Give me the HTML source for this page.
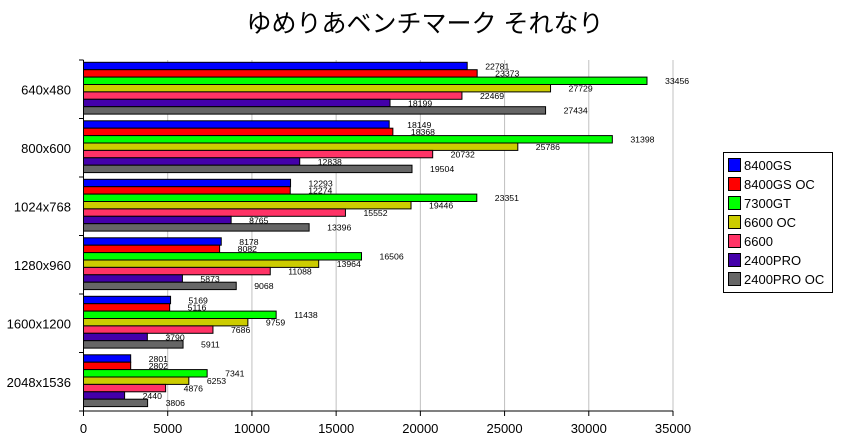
<!DOCTYPE html>
<html><head><meta charset="utf-8"><style>body{margin:0;background:#fff}svg{display:block}</style></head>
<body>
<svg id="s" width="850" height="445" xmlns="http://www.w3.org/2000/svg" font-family="Liberation Sans, sans-serif">
<text x="425" y="32" text-anchor="middle" font-size="25" font-family="Liberation Sans, Noto Sans CJK JP, sans-serif">ゆめりあベンチマーク それなり</text>
<g id="g"></g>
</svg>
<script>
const NS="http://www.w3.org/2000/svg",g=document.getElementById('g');
function el(t,a,txt){const e=document.createElementNS(NS,t);for(const k in a)e.setAttribute(k,a[k]);if(txt!=null)e.textContent=txt;g.appendChild(e);return e;}
const x0=83.5,sc=589.5/35000,y0=60,gh=58.5;
const cats=["640x480","800x600","1024x768","1280x960","1600x1200","2048x1536"];
const cols=["#0000ff","#ff0000","#00ff00","#cccc00","#ff3366","#4400aa","#666666"];
const names=["8400GS","8400GS OC","7300GT","6600 OC","6600","2400PRO","2400PRO OC"];
const d=[[22781,23373,33456,27729,22469,18199,27434],[18149,18368,31398,25786,20732,12838,19504],[12293,12274,23351,19446,15552,8765,13396],[8178,8082,16506,13964,11088,5873,9068],[5169,5116,11438,9759,7686,3790,5911],[2801,2802,7341,6253,4876,2440,3806]];
for(let i=1;i<=7;i++){const x=x0+i*5000*sc;el('line',{x1:x,y1:y0,x2:x,y2:411,stroke:'#c0c0c0'});}
for(let c=0;c<6;c++){const gy=y0+c*gh;
 for(let b=0;b<7;b++){const v=d[c][b],y=gy+2.3+b*7.4,w=v*sc;
  el('rect',{x:x0,y:y,width:w,height:7.4,fill:cols[b],stroke:'#000','stroke-width':1});
  el('text',{x:x0+w+18,y:y+7,'font-size':8.7},v);}
 el('text',{x:71,y:gy+gh/2+5,'text-anchor':'end','font-size':13},cats[c]);
}
for(let c=0;c<=6;c++)el('line',{x1:79,y1:y0+c*gh,x2:x0,y2:y0+c*gh,stroke:'#000'});
el('line',{x1:x0,y1:y0,x2:x0,y2:411,stroke:'#000'});
el('line',{x1:x0,y1:411,x2:673,y2:411,stroke:'#000'});
for(let i=0;i<=7;i++){const x=x0+i*5000*sc;el('line',{x1:x,y1:411,x2:x,y2:416,stroke:'#000'});el('text',{x:x,y:433,'text-anchor':'middle','font-size':13},i*5000);}
el('rect',{x:723.5,y:152.5,width:109,height:140,fill:'#fff',stroke:'#000'});
for(let i=0;i<7;i++){const y=158+i*19;el('rect',{x:728.5,y:y+0.5,width:12,height:13,fill:cols[i],stroke:'#000'});el('text',{x:744,y:y+12,'font-size':13},names[i]);}
</script>
</body></html>
